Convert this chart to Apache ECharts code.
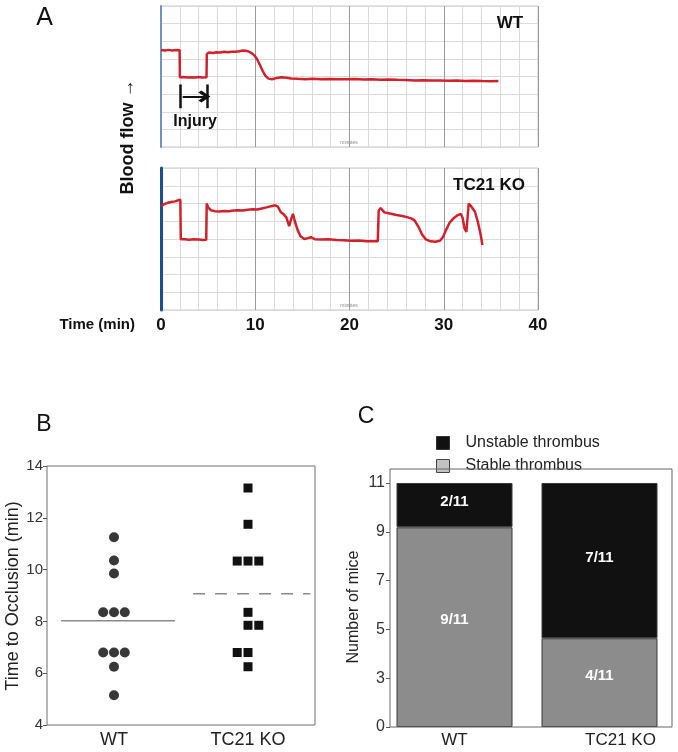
<!DOCTYPE html>
<html><head><meta charset="utf-8">
<script src="https://cdn.jsdelivr.net/npm/echarts@6/dist/echarts.min.js"></script>
<style>html,body{margin:0;padding:0;background:#fff}#c{width:678px;height:752px}</style>
</head><body><div id="c"></div>
<script>
// ---------- Panel A: blood-flow traces [time (min), flow (grid units)] ----------
const wtTrace = [[0,5.5],[0.4,5.47],[0.8,5.51],[1.2,5.48],[1.6,5.5],[1.98,5.49],[2.0,3.96],[2.4,3.97],[2.8,3.94],[3.2,3.96],[3.6,3.95],[4.0,3.97],[4.4,3.94],[4.83,3.96],[4.86,5.28],[5.1,5.36],[5.5,5.33],[5.9,5.38],[6.3,5.36],[6.7,5.4],[7.1,5.38],[7.5,5.41],[7.9,5.4],[8.3,5.43],[8.7,5.47],[9.0,5.46],[9.3,5.42],[9.6,5.33],[9.9,5.2],[10.2,4.98],[10.5,4.65],[10.8,4.3],[11.1,4.02],[11.4,3.88],[11.8,3.84],[12.3,3.92],[12.8,3.96],[13.3,3.93],[13.8,3.89],[14.5,3.87],[15.3,3.85],[16.1,3.87],[17.0,3.84],[17.9,3.86],[18.8,3.84],[19.7,3.85],[20.6,3.86],[21.5,3.83],[22.4,3.84],[23.3,3.82],[24.2,3.83],[25.1,3.81],[26.0,3.8],[26.9,3.78],[27.8,3.79],[28.7,3.77],[29.6,3.78],[30.5,3.76],[31.4,3.77],[32.3,3.75],[33.2,3.76],[34.1,3.74],[35.0,3.73],[35.8,3.74]];
const koTrace = [[0,5.82],[0.3,5.95],[0.7,6.04],[1.1,6.08],[1.5,6.12],[1.8,6.18],[2.05,6.22],[2.1,3.98],[2.5,3.99],[3.0,3.96],[3.5,3.98],[4.0,3.97],[4.5,3.95],[4.8,3.96],[4.85,6.0],[5.0,5.78],[5.3,5.62],[5.7,5.57],[6.2,5.55],[6.7,5.58],[7.2,5.56],[7.7,5.6],[8.2,5.62],[8.7,5.6],[9.2,5.65],[9.7,5.67],[10.2,5.66],[10.7,5.72],[11.2,5.78],[11.7,5.85],[12.1,5.9],[12.4,5.82],[12.7,5.52],[13.0,5.4],[13.3,5.22],[13.6,4.72],[13.8,5.1],[14.0,5.42],[14.2,5.0],[14.5,4.5],[14.8,4.15],[15.2,4.0],[15.6,4.05],[15.9,4.1],[16.3,3.99],[17.0,3.97],[17.8,3.98],[18.6,3.95],[19.4,3.93],[20.2,3.9],[21.0,3.91],[21.8,3.88],[22.6,3.87],[23.0,3.88],[23.1,5.6],[23.3,5.75],[23.7,5.5],[24.4,5.42],[25.0,5.35],[25.6,5.3],[26.2,5.22],[26.6,5.15],[26.9,5.05],[27.3,4.7],[27.7,4.25],[28.1,3.98],[28.6,3.87],[29.1,3.85],[29.6,3.9],[29.9,4.1],[30.2,4.45],[30.6,4.9],[31.0,5.15],[31.5,5.35],[31.8,5.42],[32.0,5.2],[32.2,4.6],[32.4,4.4],[32.55,4.35],[32.65,6.0],[32.9,5.85],[33.3,5.55],[33.6,5.0],[33.9,4.3],[34.1,3.66]];
const timeTicks = [0, 10, 20, 30, 40];
const injuryStart = 2.0;
const injuryEnd = 4.9;

// ---------- Panel B: time to occlusion (min) ----------
const groups = ['WT', 'TC21 KO'];
const wtOcclusion = [11.25, 10.35, 9.85, 8.35, 8.35, 8.35, 6.8, 6.8, 6.8, 6.25, 5.15];
const koOcclusion = [13.15, 11.75, 10.33, 10.33, 10.33, 8.35, 7.85, 7.85, 6.8, 6.8, 6.25];

// ---------- Panel C: number of mice ----------
const stableCounts = [9, 4];
const unstableCounts = [2, 7];
const totalMice = 11;
const cTickLabels = ['0', '3', '5', '7', '9', '11'];

// ---------- layout (jitter slots for overlapping dots, not data) ----------
const wtSlots = [0, 0, 0, -1, 0, 1, -1, 0, 1, 0, 0];
const koSlots = [0, 0, -1, 0, 1, 0, 0, 1, -1, 0, 0];
const FONT = "'Liberation Sans', Arial, sans-serif";
const RED = '#d0212c';

const mean = a => a.reduce((s, v) => s + v, 0) / a.length;
const wtMean = mean(wtOcclusion), koMean = mean(koOcclusion);
const cTickSlots = cTickLabels.map((_, i) => i);

const minorCols = ['#9a9a9a', '#dadada', '#dadada', '#dadada', '#dadada'];
function traceX(gi, showLabels) {
  return {
    type: 'value', gridIndex: gi, min: 0, max: 40, interval: 2,
    axisLine: { show: false }, axisTick: { show: false },
    axisLabel: showLabels ? {
      show: true, margin: 7, fontFamily: FONT, fontSize: 17, fontWeight: 'bold', color: '#111',
      formatter: v => timeTicks.includes(v) ? String(v) : ''
    } : { show: false },
    splitLine: { show: true, lineStyle: { color: minorCols, width: 1 } }
  };
}
function traceY(gi, blue, w) {
  return {
    type: 'value', gridIndex: gi, min: 0, max: 8, interval: 1, position: 'left',
    axisLine: { show: true, onZero: false, lineStyle: { color: blue, width: w } },
    axisTick: { show: false }, axisLabel: { show: false },
    splitLine: { show: true, lineStyle: { color: '#dadada', width: 1 } }
  };
}

const chevronUp = 'path://M6,0 L12,6 L10,8 L6,4 L2,8 L0,6 Z';
const txt = (x, y, text, size, extra) => Object.assign({ type: 'text', x, y, z: 100,
  style: Object.assign({ text, fontSize: size, fontFamily: FONT, fill: '#111', align: 'center', verticalAlign: 'middle' }, extra && extra.style) },
  extra && extra.el);

const option = {
  animation: false,
  backgroundColor: '#fff',
  textStyle: { fontFamily: FONT },
  grid: [
    { left: 161, top: 6, width: 377, height: 141, show: true, borderColor: '#c6c6c6', borderWidth: 1, backgroundColor: '#fff' },
    { left: 161, top: 168, width: 377, height: 142, show: true, borderColor: '#c6c6c6', borderWidth: 1, backgroundColor: '#fff' },
    { left: 47, top: 466, width: 268, height: 259, show: true, borderColor: '#6e6e6e', borderWidth: 1 },
    { left: 382, top: 469, width: 290, height: 258, show: false }
  ],
  xAxis: [
    traceX(0, false),
    traceX(1, true),
    { type: 'category', gridIndex: 2, data: groups, boundaryGap: true,
      axisLine: { show: false }, axisTick: { show: false }, splitLine: { show: false },
      axisLabel: { margin: 6, fontSize: 18, color: '#222', fontFamily: FONT } },
    { type: 'value', gridIndex: 2, min: 0, max: 4, show: false },
    { type: 'category', gridIndex: 3, boundaryGap: true,
      data: [{ value: groups[0] }, { value: groups[1], textStyle: { padding: [0, 0, 0, 42] } }],
      axisLine: { show: false }, axisTick: { show: false }, splitLine: { show: false },
      axisLabel: { margin: 5, fontSize: 17, color: '#222', fontFamily: FONT } }
  ],
  yAxis: [
    traceY(0, '#6f93bd', 2),
    traceY(1, '#1c4e8e', 3),
    { type: 'value', gridIndex: 2, min: 4, max: 14, interval: 2, position: 'left',
      axisLine: { show: false }, splitLine: { show: false },
      axisTick: { show: true, length: 4, lineStyle: { color: '#555' } },
      axisLabel: { margin: 4, fontSize: 15, color: '#333', fontFamily: FONT } },
    { type: 'value', gridIndex: 3, min: 0, max: 11.63, show: false, position: 'right' },
    { type: 'value', gridIndex: 3, min: 0, max: 5.287, interval: 1, offset: -8, position: 'left',
      axisLine: { show: false }, splitLine: { show: false },
      axisTick: { show: true, length: 4, lineStyle: { color: '#555' }, customValues: cTickSlots },
      axisLabel: { margin: 5, fontSize: 16, color: '#333', fontFamily: FONT, customValues: cTickSlots,
        formatter: v => Math.abs(v - Math.round(v)) < 1e-6 ? (cTickLabels[Math.round(v)] || '') : '' } }
  ],
  legend: {
    show: true, orient: 'vertical', left: 431, top: 430, icon: 'rect',
    itemWidth: 13, itemHeight: 13, itemGap: 7, selectedMode: false,
    textStyle: { fontSize: 16, color: '#222', fontFamily: FONT, padding: [0, 0, 0, 11] },
    data: [
      { name: 'Unstable thrombus', itemStyle: { color: '#111', borderColor: '#333', borderWidth: 1 } },
      { name: 'Stable thrombus', itemStyle: { color: '#c2c2c2', borderColor: '#444', borderWidth: 1 } }
    ]
  },
  series: [
    { type: 'line', name: 'WT trace', xAxisIndex: 0, yAxisIndex: 0, data: wtTrace,
      showSymbol: false, symbol: 'none', lineStyle: { color: RED, width: 2.5 },
      markLine: {
        silent: true, symbol: ['none', 'none'], label: { show: false },
        lineStyle: { color: '#111', type: 'solid', width: 2.5 },
        data: [
          [{ coord: [injuryStart, 3.55] }, { coord: [injuryStart, 2.2] }],
          [{ coord: [injuryEnd, 3.55] }, { coord: [injuryEnd, 2.2] }],
          [{ coord: [injuryStart + 0.3, 2.86], lineStyle: { width: 2 } },
           { coord: [injuryEnd - 0.3, 2.86], symbol: chevronUp, symbolSize: [12, 12], symbolOffset: [0, 0] }]
        ]
      }
    },
    { type: 'line', name: 'KO trace', xAxisIndex: 1, yAxisIndex: 1, data: koTrace,
      showSymbol: false, symbol: 'none', lineStyle: { color: RED, width: 2.5 } },
    { type: 'scatter', name: 'WT pts', xAxisIndex: 2, yAxisIndex: 2, symbol: 'circle', symbolSize: 10,
      itemStyle: { color: '#383838', opacity: 1 },
      data: wtOcclusion.map((v, i) => ({ value: [0, v], symbolOffset: [wtSlots[i] * 10.8, 0] })) },
    { type: 'scatter', name: 'KO pts', xAxisIndex: 2, yAxisIndex: 2, symbol: 'rect', symbolSize: 9,
      itemStyle: { color: '#111', opacity: 1 },
      data: koOcclusion.map((v, i) => ({ value: [1, v], symbolOffset: [koSlots[i] * 10.8, 0] })) },
    { type: 'line', name: 'WT mean', xAxisIndex: 3, yAxisIndex: 2, symbol: 'none',
      lineStyle: { color: '#8a8a8a', width: 1.5 }, data: [[0.21, wtMean], [1.91, wtMean]] },
    { type: 'line', name: 'KO mean', xAxisIndex: 3, yAxisIndex: 2, symbol: 'none',
      lineStyle: { color: '#8a8a8a', width: 1.5, type: [12, 10] }, data: [[2.18, koMean], [3.93, koMean]] },
    { type: 'bar', name: 'Stable thrombus', xAxisIndex: 4, yAxisIndex: 3, stack: 'c', barWidth: 116,
      data: stableCounts, itemStyle: { color: '#8c8c8c', borderColor: '#3a3a3a', borderWidth: 1 },
      label: { show: true, position: 'inside', offset: [0, -7], color: '#fff', fontWeight: 'bold', fontSize: 15, fontFamily: FONT,
        formatter: p => p.value + '/' + totalMice } },
    { type: 'bar', name: 'Unstable thrombus', xAxisIndex: 4, yAxisIndex: 3, stack: 'c', barWidth: 116,
      data: unstableCounts, itemStyle: { color: '#111', borderColor: '#3a3a3a', borderWidth: 1 },
      label: { show: true, position: 'inside', offset: [0, -3], color: '#fff', fontWeight: 'bold', fontSize: 15, fontFamily: FONT,
        formatter: p => p.value + '/' + totalMice } }
  ],
  graphic: [
    txt(44.5, 18, 'A', 25),
    txt(44, 425, 'B', 23),
    txt(366, 417, 'C', 23),
    txt(128, 137, 'Blood flow \u2192', 18, { style: { fontWeight: 'bold' }, el: { rotation: Math.PI / 2 } }),
    txt(135, 325, 'Time (min)', 15, { style: { fontWeight: 'bold', align: 'right' } }),
    txt(510, 23, 'WT', 17, { style: { fontWeight: 'bold' } }),
    txt(489, 185, 'TC21 KO', 17, { style: { fontWeight: 'bold' } }),
    txt(195, 122, 'Injury', 16, { style: { fontWeight: 'bold' } }),
    txt(349, 143, 'minutes', 5, { style: { fill: '#888' } }),
    txt(349, 306, 'minutes', 5, { style: { fill: '#888' } }),
    txt(13.5, 596, 'Time to Occlusion (min)', 18, { style: { fill: '#222' }, el: { rotation: Math.PI / 2 } }),
    txt(353.5, 607, 'Number of mice', 16, { style: { fill: '#222' }, el: { rotation: Math.PI / 2 } }),
    { type: 'rect', z: 100, shape: { x: 390, y: 469, width: 282, height: 258 }, style: { fill: 'none', stroke: '#666', lineWidth: 1 } }
  ]
};

const chart = echarts.init(document.getElementById('c'), null, { renderer: 'canvas' });
chart.setOption(option);
</script>
</body></html>
